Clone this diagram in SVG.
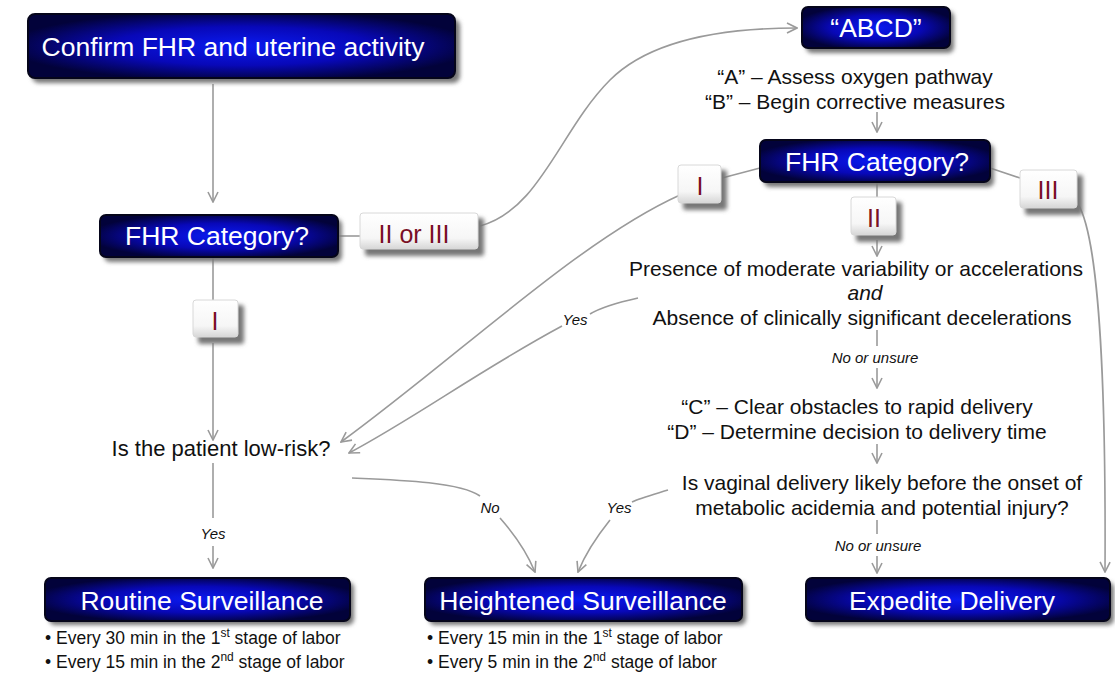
<svg xmlns="http://www.w3.org/2000/svg" width="1115" height="674" viewBox="0 0 1115 674">
<style>
.box{fill:url(#bg);stroke:#05051a;stroke-width:2}
.shadow{fill:#777;filter:url(#blur)}
.bt{font-family:"Liberation Sans",Arial,sans-serif;font-size:26.5px;fill:#fff;text-anchor:middle}
.tab{fill:url(#tg);stroke:#d8d8d8;stroke-width:1}
.tt{font-family:"Liberation Sans",Arial,sans-serif;font-size:25px;fill:#7a0f26;text-anchor:middle}
.t{font-family:"Liberation Sans",Arial,sans-serif;font-size:21px;fill:#111;text-anchor:middle}
.it{font-style:italic}
.s{font-family:"Liberation Sans",Arial,sans-serif;font-size:15px;font-style:italic;fill:#111;text-anchor:middle}
.b{font-family:"Liberation Sans",Arial,sans-serif;font-size:17.5px;fill:#111}
.c{fill:none;stroke:#9a9a9a;stroke-width:1.6}
.a{marker-end:url(#arr)}
</style>
<defs>
<radialGradient id="bg" cx="0.5" cy="0.5" r="0.55">
<stop offset="0" stop-color="#0a1af0"/>
<stop offset="0.55" stop-color="#0808b8"/>
<stop offset="1" stop-color="#02023a"/>
</radialGradient>
<linearGradient id="tg" x1="0" y1="0" x2="0" y2="1">
<stop offset="0" stop-color="#ffffff"/>
<stop offset="0.7" stop-color="#f6f6f6"/>
<stop offset="1" stop-color="#d6d6d6"/>
</linearGradient>
<filter id="blur" x="-10%" y="-30%" width="120%" height="160%"><feGaussianBlur stdDeviation="2"/></filter>
<marker id="arr" viewBox="0 0 12 12" refX="11" refY="6" markerWidth="12" markerHeight="12" markerUnits="userSpaceOnUse" orient="auto">
<path d="M1,1 L11,6 L1,11" fill="none" stroke="#9a9a9a" stroke-width="1.6"/>
</marker>
</defs>
<rect width="1115" height="674" fill="#fff"/>

<g id="connectors">
<path class="c a" d="M213,84 V202"/>
<path class="c" d="M338,236 H360"/>
<path class="c a" d="M480,226 C540,210 560,130 610,80 C650,40 720,28 797,28"/>
<path class="c a" d="M877,112 V132"/>
<path class="c" d="M213,258 V300"/>
<path class="c a" d="M213,343 V440"/>
<path class="c" d="M213,463 V518"/>
<path class="c a" d="M213,546 V568"/>
<path class="c" d="M760,168 L722,178"/>
<path class="c a" d="M680,195 C580,240 460,355 341,442"/>
<path class="c" d="M638,298 C620,302 600,308 590,314"/>
<path class="c a" d="M562,326 C480,370 415,418 349,453"/>
<path class="c" d="M352,478 C400,480 460,482 480,496"/>
<path class="c a" d="M500,518 C515,535 528,555 535,572"/>
<path class="c" d="M668,490 C655,494 640,498 632,502"/>
<path class="c a" d="M610,520 C598,535 586,552 578,572"/>
<path class="c" d="M877,182 V197"/>
<path class="c a" d="M877,240 V256"/>
<path class="c" d="M877,330 V346"/>
<path class="c a" d="M877,368 V388"/>
<path class="c a" d="M877,444 V463"/>
<path class="c" d="M877,520 V534"/>
<path class="c a" d="M877,556 V573"/>
<path class="c" d="M990,168 L1020,178"/>
<path class="c a" d="M1078,204 C1100,240 1106,400 1105,572"/>
</g>

<g id="n-confirm">
<rect class="shadow" x="32" y="19" width="428" height="64" rx="7"/>
<rect class="box" x="28" y="14" width="427" height="64" rx="7"/>
<text class="bt" x="233" y="56">Confirm FHR and uterine activity</text>
</g>
<g id="n-abcd">
<rect class="shadow" x="806" y="11" width="148" height="42" rx="6"/>
<rect class="box" x="802" y="7" width="148" height="41" rx="6"/>
<text class="bt" x="876" y="37">“ABCD”</text>
</g>
<g id="n-fhr1">
<rect class="shadow" x="104" y="219" width="238" height="43" rx="6"/>
<rect class="box" x="100" y="215" width="238" height="42" rx="6"/>
<text class="bt" x="217" y="245">FHR Category?</text>
</g>
<g id="n-fhr2">
<rect class="shadow" x="764" y="144" width="230" height="43" rx="6"/>
<rect class="box" x="760" y="140" width="230" height="42" rx="6"/>
<text class="bt" x="877" y="171">FHR Category?</text>
</g>
<g id="n-routine">
<rect class="shadow" x="49" y="582" width="305" height="43" rx="6"/>
<rect class="box" x="45" y="578" width="305" height="43" rx="6"/>
<text class="bt" x="202" y="610">Routine Surveillance</text>
</g>
<g id="n-heightened">
<rect class="shadow" x="429" y="582" width="317" height="43" rx="6"/>
<rect class="box" x="425" y="578" width="317" height="43" rx="6"/>
<text class="bt" x="583" y="610">Heightened Surveillance</text>
</g>
<g id="n-expedite">
<rect class="shadow" x="810" y="582" width="304" height="43" rx="6"/>
<rect class="box" x="806" y="578" width="304" height="43" rx="6"/>
<text class="bt" x="952" y="610">Expedite Delivery</text>
</g>

<g id="tab-iiiii">
<rect class="shadow" x="365" y="218" width="119" height="38" rx="3"/>
<rect class="tab" x="360" y="213" width="118" height="36" rx="3"/>
<text class="tt" x="414" y="243">II or III</text>
</g>
<g id="tab-i-left">
<rect class="shadow" x="198" y="305" width="46" height="39" rx="3"/>
<rect class="tab" x="193" y="300" width="45" height="37" rx="3"/>
<text class="tt" x="215" y="330">I</text>
</g>
<g id="tab-i-right">
<rect class="shadow" x="683" y="170" width="44" height="40" rx="3"/>
<rect class="tab" x="678" y="165" width="43" height="38" rx="3"/>
<text class="tt" x="700" y="195">I</text>
</g>
<g id="tab-ii">
<rect class="shadow" x="856" y="202" width="46" height="40" rx="3"/>
<rect class="tab" x="851" y="197" width="45" height="38" rx="3"/>
<text class="tt" x="874" y="227">II</text>
</g>
<g id="tab-iii">
<rect class="shadow" x="1025" y="175" width="58" height="40" rx="3"/>
<rect class="tab" x="1020" y="170" width="57" height="38" rx="3"/>
<text class="tt" x="1048" y="199">III</text>
</g>

<g id="texts">
<text class="t" x="855" y="84">“A” – Assess oxygen pathway</text>
<text class="t" x="855" y="109">“B” – Begin corrective measures</text>
<text class="t" x="856" y="276">Presence of moderate variability or accelerations</text>
<text class="t it" x="865" y="300">and</text>
<text class="t" x="862" y="325">Absence of clinically significant decelerations</text>
<text class="s" x="875" y="363">No or unsure</text>
<text class="t" x="857" y="414">“C” – Clear obstacles to rapid delivery</text>
<text class="t" x="857" y="439">“D” – Determine decision to delivery time</text>
<text class="t" x="882" y="490">Is vaginal delivery likely before the onset of</text>
<text class="t" x="882" y="515">metabolic acidemia and potential injury?</text>
<text class="s" x="878" y="551">No or unsure</text>
<text class="t" x="221" y="456" style="font-size:22px">Is the patient low-risk?</text>
<text class="s" x="213" y="539">Yes</text>
<text class="s" x="575" y="325">Yes</text>
<text class="s" x="490" y="513">No</text>
<text class="s" x="619" y="513">Yes</text>
<text class="b" x="45" y="644">• Every 30 min in the 1<tspan font-size="12" dy="-7">st</tspan><tspan dy="7"> stage of labor</tspan></text>
<text class="b" x="45" y="668">• Every 15 min in the 2<tspan font-size="12" dy="-7">nd</tspan><tspan dy="7"> stage of labor</tspan></text>
<text class="b" x="427" y="644">• Every 15 min in the 1<tspan font-size="12" dy="-7">st</tspan><tspan dy="7"> stage of labor</tspan></text>
<text class="b" x="427" y="668">• Every 5 min in the 2<tspan font-size="12" dy="-7">nd</tspan><tspan dy="7"> stage of labor</tspan></text>
</g>
</svg>
